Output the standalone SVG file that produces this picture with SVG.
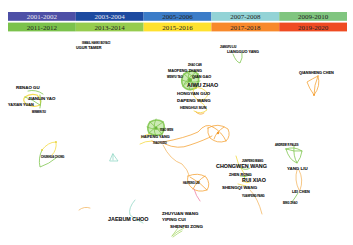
<svg xmlns="http://www.w3.org/2000/svg" width="353" height="245" viewBox="0 0 353 245">
<style>
.lg{font-family:"Liberation Serif",serif;font-size:7px;text-anchor:middle;fill:#222}
.lw{fill:#e8e8f0}
.t{font-family:"Liberation Sans",Arial,sans-serif;font-weight:bold;fill:#111;stroke:#111;stroke-width:0.1}
.s{font-size:2.6px}
.m{font-size:3.8px}
.n{font-size:4.4px}
.b{font-size:5.4px}
.e{fill:none;stroke-width:0.9;stroke-linecap:round;opacity:0.85}
.g{stroke:#7cc44a}
.y{stroke:#f3d83a}
.o{stroke:#f5a030}
.or{stroke:#f3b560}
.tl{stroke:#8fd6c4}
.pk{stroke:#ee7aa0}
.lgn{stroke:#a8d86a}
.nd{stroke:none}
.blob{fill:#8fd05a;opacity:0.45;stroke:none}
</style>
<rect width="353" height="245" fill="#ffffff"/>
<g id="legend">
<rect x="8" y="12" width="67.8" height="8.8" fill="#4d4fa6"/>
<rect x="75.8" y="12" width="67.8" height="8.8" fill="#1d4aa0"/>
<rect x="143.6" y="12" width="67.8" height="8.8" fill="#3b7cc8"/>
<rect x="211.4" y="12" width="67.8" height="8.8" fill="#93d3d6"/>
<rect x="279.2" y="12" width="67.8" height="8.8" fill="#80c57f"/>
<rect x="8" y="22.6" width="67.8" height="8.8" fill="#7bc24c"/>
<rect x="75.8" y="22.6" width="67.8" height="8.8" fill="#96cc4e"/>
<rect x="143.6" y="22.6" width="67.8" height="8.8" fill="#ffe12e"/>
<rect x="211.4" y="22.6" width="67.8" height="8.8" fill="#f8892b"/>
<rect x="279.2" y="22.6" width="67.8" height="8.8" fill="#ef4b22"/>
<text class="lg lw" x="41.9" y="19">2001-2002</text>
<text class="lg lw" x="109.7" y="19">2003-2004</text>
<text class="lg" x="177.5" y="19">2005-2006</text>
<text class="lg" x="245.3" y="19">2007-2008</text>
<text class="lg" x="313.1" y="19">2009-2010</text>
<text class="lg" x="41.9" y="29.6">2011-2012</text>
<text class="lg" x="109.7" y="29.6">2013-2014</text>
<text class="lg" x="177.5" y="29.6">2015-2016</text>
<text class="lg" x="245.3" y="29.6">2017-2018</text>
<text class="lg" x="313.1" y="29.6">2019-2020</text>
</g>
<g id="connectors">
<path class="e g" d="M28 91 Q36 89 43 94"/>
<path class="e y" d="M25 97 Q30 93 37 95 Q42 100 40 105 Q33 108 26 104 Q22 100 25 97" style="stroke-width:1.2"/>
<path class="e g" d="M40 95 Q42 101 40 108"/>
<path class="e g" d="M25 97 Q32 99 40 105"/>
<path class="blob" d="M184 74 Q192 68 198 74 Q200 82 196 88 Q188 92 183 86 Q180 80 184 74 Z"/>
<path class="e g" d="M184 74 Q192 68 198 74 Q200 82 196 88 Q188 92 183 86 Q180 80 184 74 Z" style="stroke-width:1.6"/>
<path class="e g" d="M184 74 Q192 80 196 88 M198 74 Q190 80 183 86 M190 70 Q186 80 190 90 M182 80 Q191 84 200 81 M186 72 Q194 78 199 78 M184 84 Q190 76 196 72"/>
<path class="e y" d="M194 88 Q203 86 208 94 Q206 101 198 100 Q191 96 194 88"/>
<path class="e y" d="M198 100 Q205 104 207 110 Q201 115 194 111"/>
<path class="e o" d="M196 112 Q200 116 204 113"/>
<path class="e g" d="M233 54 Q236 62 240 63 Q243 58 242 53"/>
<path class="e o" d="M318 76 Q321 86 314 95 Q309 88 307 82 Q312 79 318 76 Z"/>
<path class="e o" d="M318 76 Q314 85 314 95"/>
<path class="e y" d="M42 150 Q48 142 56 142 Q57 150 52 155"/>
<path class="e g" d="M42 150 Q38 158 40 167 Q49 164 56 158"/>
<path class="e tl" d="M113 154 L118 161 L110 161 Z M113 154 L113 160"/>
<path class="blob" d="M150 122 Q157 118 163 122 Q166 128 162 134 Q155 137 149 133 Q146 127 150 122 Z"/>
<path class="e g" d="M150 122 Q157 118 163 122 Q166 128 162 134 Q155 137 149 133 Q146 127 150 122 Z" style="stroke-width:1.6"/>
<path class="e g" d="M150 122 Q157 128 162 134 M163 122 Q155 127 149 133 M156 119 Q152 128 156 136 M147 127 Q156 131 165 128"/>
<path class="e y" d="M141 138 Q146 134 150 134 M140 144 Q145 141 152 141"/>
<path class="e o" d="M152 141 Q158 145 162 142"/>
<path class="e o" d="M163 142 Q185 138 198 132 Q206 122 213 127"/>
<path class="e o" d="M165 144 Q178 150 190 145 Q205 140 212 136"/>
<path class="e o" d="M208 128 Q218 122 228 129 Q231 136 226 141 Q217 144 210 138 Q207 133 208 128 Z"/>
<path class="e o" d="M213 127 Q222 132 226 141 M224 127 Q216 132 214 139"/>
<path class="e or" d="M163 145 Q170 160 182 164 Q188 170 189 175"/>
<path class="e o" d="M188 176 Q198 172 206 177 Q211 184 207 190 Q198 193 192 188 Q186 183 188 176 Z"/>
<path class="e o" d="M190 177 Q200 182 207 190 M205 176 Q197 181 193 189"/>
<path class="e pk" d="M194 189 Q196 196 200 201"/>
<path class="e y" d="M236 156 Q238 165 242 170 Q246 175 244 182"/>
<path class="e g" d="M241 168 Q246 171 250 168 M240 176 Q245 178 250 175"/>
<path class="e y" d="M243 181 Q247 184 250 182 M238 184 L246 186"/>
<path class="e or" d="M250 190 Q258 198 262 214"/>
<path class="e g" d="M286 149 Q294 146 302 151 Q301 158 297 163 Q289 160 286 149 Z"/>
<path class="e g" d="M286 149 Q294 152 302 151 M294 146 Q293 156 297 163"/>
<path class="e or" d="M297 170 Q294 180 299 190 M299 170 Q304 180 300 190"/>
<path class="e g" d="M298 193 Q295 198 292 202"/>
<path class="e tl" d="M135 200 Q128 208 130 215 Q136 220 143 223"/>
<path class="e or" d="M79 210 Q84 206 90 208"/>
<path class="e lgn" d="M172 236 Q176 232 184 228 M173 237 Q178 233 182 231 M172 236 L178 228"/>
<circle class="nd" cx="190" cy="80" r="2" fill="#6db83c"/>
<circle class="nd" cx="156" cy="128" r="1.6" fill="#6db83c"/>
<circle class="nd" cx="218" cy="133" r="1.2" fill="#f39a2a"/>
<circle class="nd" cx="198" cy="182" r="1.2" fill="#f39a2a"/>
<circle class="nd" cx="314" cy="95" r="0.9" fill="#f39a2a"/>
<circle class="nd" cx="42" cy="150" r="0.9" fill="#e6d23a"/>
<circle class="nd" cx="56" cy="142" r="0.9" fill="#e6d23a"/>
</g>
<g id="labels">
<text class="t s" x="82" y="43.5">ISMAIL HAKKI BOYACI</text>
<text class="t m" x="76" y="48.5">UGUR TAMER</text>
<text class="t n" x="16" y="89">RENAO GU</text>
<text class="t n" x="28" y="99.5">JIANLIN YAO</text>
<text class="t m" x="8" y="106">YAXIAN YUAN</text>
<text class="t s" x="32" y="112.5">MINMIN XU</text>
<text class="t s" x="220" y="47.5">JIANGFU LIU</text>
<text class="t m" x="227" y="52.5">LIANGGUO YANG</text>
<text class="t s" x="188" y="66">ZHAO CAN</text>
<text class="t m" x="168" y="72">MAOFENG ZHANG</text>
<text class="t s" x="167" y="77.5">WENYU TAO</text>
<text class="t m" x="192" y="77.5">QIAN GAO</text>
<text class="t b" x="187" y="86.5">AIWU ZHAO</text>
<text class="t n" x="177" y="94.5">HONGYAN GUO</text>
<text class="t n" x="177" y="101.5">DAPENG WANG</text>
<text class="t m" x="180" y="108.5">HENGHUI SUN</text>
<text class="t m" x="299" y="73.8">QIANSHENG CHEN</text>
<text class="t s" x="41" y="158">CHUNHUA CHONG</text>
<text class="t s" x="160" y="131">XIAO WEN</text>
<text class="t m" x="141" y="138">HAIFENG YANG</text>
<text class="t s" x="153" y="143.5">XIAOYUDO</text>
<text class="t s" x="183" y="184">HAIFENG LIU</text>
<text class="t s" x="242" y="162">JUNFENG WANG</text>
<text class="t b" x="216" y="167.5">CHONGWEN WANG</text>
<text class="t m" x="229" y="175.5">ZHEN RONG</text>
<text class="t b" x="242" y="181.5">RUI XIAO</text>
<text class="t n" x="222" y="189">SHENGQI WANG</text>
<text class="t s" x="242" y="196.5">YUANFENG PANG</text>
<text class="t s" x="275" y="146">ANDREW R PALES</text>
<text class="t n" x="287" y="169.5">YANG LIU</text>
<text class="t m" x="292" y="192.5">LEI CHEN</text>
<text class="t s" x="283" y="204">BING ZHAO</text>
<text class="t b" x="108" y="220.5">JAEBUM CHOO</text>
<text class="t n" x="162" y="214.5">ZHUYUAN WANG</text>
<text class="t n" x="162" y="221">YIPING CUI</text>
<text class="t n" x="170" y="228">SHENFEI ZONG</text>
</g>
</svg>
